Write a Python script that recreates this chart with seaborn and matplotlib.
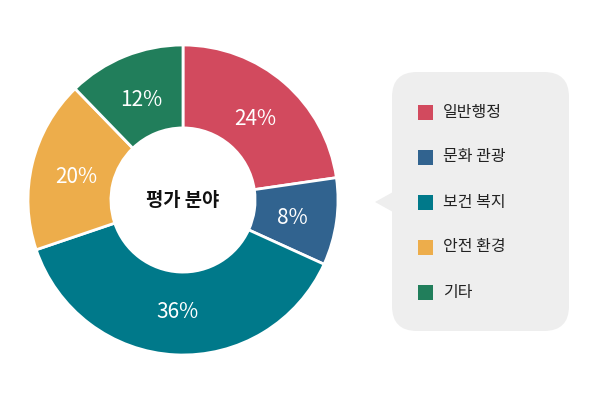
import matplotlib
matplotlib.use("Agg")
import matplotlib.pyplot as plt
from matplotlib.patches import FancyBboxPatch, Polygon, Rectangle
import seaborn as sns

categories = ["일반행정", "문화 관광", "보건 복지", "안전 환경", "기타"]
# slice shares as drawn in the reference (measured from slice boundaries)
shares = [22.7, 9.1, 38.0, 17.95, 12.25]
# percentage labels printed on the slices
pct_labels = ["24%", "8%", "36%", "20%", "12%"]
colors = ["#D24A5E", "#31638F", "#00798A", "#EDAD4B", "#217E5B"]
center_label = "평가 분야"

sns.set_theme(style="white")
plt.rcParams["font.family"] = ["Noto Sans CJK KR", "DejaVu Sans"]

W, H = 600, 400
fig = plt.figure(figsize=(6, 4), dpi=100)
fig.patch.set_facecolor("white")

# donut axes (pixel geometry)
cx, cy, R = 183, 200, 155
ax = fig.add_axes([(cx - R) / W, (H - cy - R) / H, 2 * R / W, 2 * R / H])
wedges, texts = ax.pie(
    shares,
    colors=colors,
    labels=pct_labels,
    labeldistance=0.71,
    startangle=90,
    counterclock=False,
    radius=1.0,
    wedgeprops=dict(width=0.535, edgecolor="white", linewidth=2),
    textprops=dict(color="white", fontsize=15),
)
for t in texts:
    t.set_horizontalalignment("center")
    t.set_verticalalignment("center_baseline")
ax.set_xlim(-1, 1)
ax.set_ylim(-1, 1)
ax.set_aspect("equal")
ax.axis("off")
ax.text(0, 0, center_label, ha="center", va="center", fontsize=13.5,
        fontweight="bold", color="#111111")

# legend bubble in figure pixel coords
lx = fig.add_axes([0, 0, 1, 1])
lx.set_xlim(0, W)
lx.set_ylim(H, 0)
lx.axis("off")
lx.patch.set_alpha(0)
box = FancyBboxPatch((392 + 25, 72 + 25), 177 - 50, 259 - 50,
                     boxstyle="round,pad=25", facecolor="#EEEEEE",
                     edgecolor="none")
lx.add_patch(box)
lx.add_patch(Polygon([(375, 202), (393, 192), (393, 212)], closed=True,
                     facecolor="#EEEEEE", edgecolor="none"))
y0, dy = 112, 45
for i, (lab, col) in enumerate(zip(categories, colors)):
    y = y0 + i * dy
    lx.add_patch(Rectangle((418, y - 7.5), 15, 15, facecolor=col,
                           edgecolor="none"))
    lx.text(443, y, lab, ha="left", va="center", fontsize=11.5,
            color="#222222")

fig.savefig("out.png", dpi=100, facecolor="white")
